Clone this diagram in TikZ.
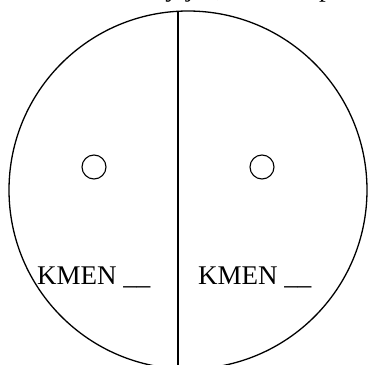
\documentclass[tikz,border=0pt]{standalone}
\usepackage{fontspec}
\setmainfont{Liberation Serif}
\begin{document}
\begin{tikzpicture}[x=1pt,y=1pt,
  outline/.style={draw=black,line width=1.3pt},
  eye/.style={circle,draw=black,line width=1.1pt,minimum size=24pt,inner sep=0pt},
  label/.style={font=\fontsize{27}{30}\selectfont,inner sep=0pt,anchor=base west},
  frag/.style={font=\fontsize{27}{30}\selectfont,inner sep=0pt,anchor=base}]
\useasboundingbox (0,0) rectangle (368,365);
\begin{scope}
\clip (0,0) rectangle (368,365);
% fragments of a cut-off text line above the picture
\node[frag] (f1) at (172,368.5) {y};
\node[frag] (f2) at (190,368.5) {j};
\node[frag] (f3) at (220,368.5) {,};
\node[frag] (f4) at (326,368.5) {p};
% big circle and dividing line
\node[circle,outline,minimum size=358pt,inner sep=0pt] (face) at (188,175) {};
\coordinate (ltop) at (178,353.7);
\coordinate (lbot) at (178,-2);
\draw[line width=1.4pt] (ltop) -- (lbot);
% small circles
\node[eye] (e1) at (94,198) {};
\node[eye] (e2) at (262,198) {};
% labels
\node[label] (k1) at (37,80) {KMEN \_\_};
\node[label] (k2) at (198,80) {KMEN \_\_};
\end{scope}
\end{tikzpicture}
\end{document}
